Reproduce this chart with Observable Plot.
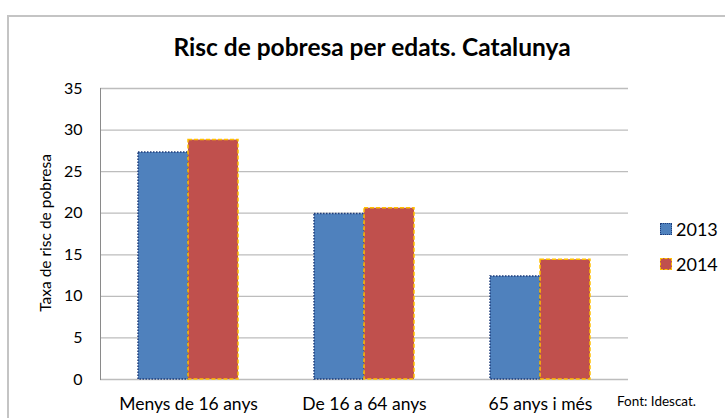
<!DOCTYPE html>
<html><head><meta charset="utf-8">
<script src="https://cdn.jsdelivr.net/npm/d3@7"></script>
<script src="https://cdn.jsdelivr.net/npm/@observablehq/plot@0.6"></script>
<style>
body{margin:0;overflow:hidden;background:#fff;font-family:Lato,"Open Sans",sans-serif;color:#000}
#wrap{position:relative;width:725px;height:418px;overflow:hidden}
#border{position:absolute;left:7px;top:15px;width:800px;height:500px;border:2px solid #c4c4c4}
#chart{position:absolute;left:0;top:0}
#title{position:absolute;left:172px;width:400px;top:32px;text-align:center;font-weight:bold;font-size:24.5px;white-space:nowrap}
#ylabel{position:absolute;left:45px;top:233px;transform:translate(-50%,-50%) rotate(-90deg);font-size:15.5px;white-space:nowrap}
.leg{position:absolute;left:660px;font-size:18px;display:flex;align-items:center;gap:4px}
.sw{width:12px;height:12px;box-sizing:border-box}
#source{position:absolute;left:617px;top:393px;font-size:13.5px;white-space:nowrap}
</style></head><body>
<div id="wrap">
 <div id="border"></div>
 <div id="chart"></div>
 <div id="title">Risc de pobresa per edats. Catalunya</div>
 <div id="ylabel">Taxa de risc de pobresa</div>
 <div id="legend"></div>
 <div id="source">Font: Idescat.</div>
</div>
<script>
const categories = ["Menys de 16 anys", "De 16 a 64 anys", "65 anys i més"];
const years = ["2013", "2014"];
const values2013 = [27.3, 19.9, 12.4];
const values2014 = [28.8, 20.6, 14.4];
const yTicks = [0, 5, 10, 15, 20, 25, 30, 35];

const fills = {"2013": "#4F81BD", "2014": "#C0504D"};
const strokes = {"2013": "#1F3D7A", "2014": "#FFC000"};
const dashes = {"2013": "1.5,1.5", "2014": "4,2"};

const rows = categories.flatMap((c, i) => [
  {cat: c, year: "2013", value: values2013[i]},
  {cat: c, year: "2014", value: values2014[i]}
]);

const barMarks = years.map(yr => Plot.barY(rows.filter(d => d.year === yr), {
  fx: "cat", x: "year", y: "value",
  fill: fills[yr], stroke: strokes[yr], strokeWidth: 1.5, strokeDasharray: dashes[yr]
}));

const chart = Plot.plot({
  width: 725, height: 418,
  marginTop: 88, marginBottom: 39, marginLeft: 99, marginRight: 96,
  style: {background: "transparent", fontFamily: "Lato, 'Open Sans', sans-serif", fontSize: "16px", color: "#000"},
  fx: {domain: categories, padding: 0, label: null},
  x: {domain: years, paddingInner: 0, paddingOuter: 0.75, axis: null},
  y: {domain: [0, 35], axis: null},
  marks: [
    Plot.ruleY(yTicks, {stroke: "#bdbdbd", strokeWidth: 1.3}),
    ...barMarks,
    Plot.axisY({ticks: yTicks, tickSize: 0, tickPadding: 18, label: null, fontSize: 16}),
    Plot.axisFx({anchor: "bottom", tickSize: 0, tickPadding: 18, label: null, fontSize: 17.5}),
    Plot.frame({anchor: "left", facetAnchor: "left", stroke: "#8a8a8a"})
  ]
});
document.getElementById("chart").appendChild(chart);

const legend = document.getElementById("legend");
years.forEach((yr, i) => {
  const item = document.createElement("div");
  item.className = "leg";
  item.style.top = (218 + i * 35) + "px";
  const sw = document.createElement("div");
  sw.className = "sw";
  sw.style.background = fills[yr];
  sw.style.border = "1.5px " + (yr === "2013" ? "dotted " : "dashed ") + strokes[yr];
  const t = document.createElement("span");
  t.textContent = yr;
  item.appendChild(sw); item.appendChild(t);
  legend.appendChild(item);
});
</script>
</body></html>
